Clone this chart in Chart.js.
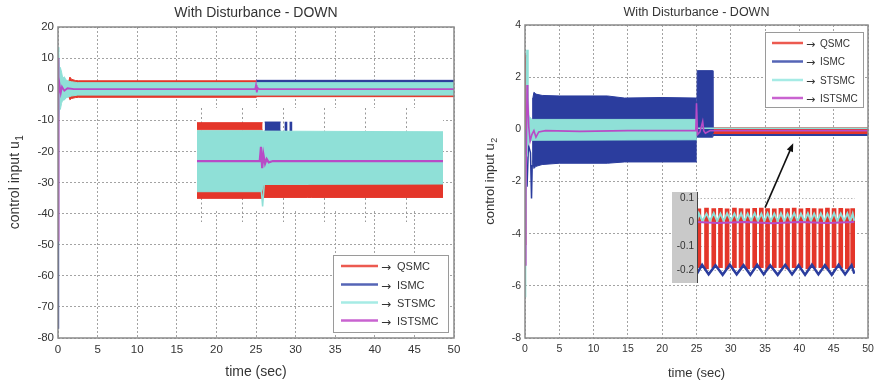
<!DOCTYPE html>
<html>
<head>
<meta charset="utf-8">
<script src="https://cdn.jsdelivr.net/npm/chart.js@4.4.1/dist/chart.umd.min.js"></script>
<style>
html, body { margin: 0; padding: 0; background: #fff; }
#page { position: relative; width: 878px; height: 384px; overflow: hidden; background: #fff; }
canvas { position: absolute; }
</style>
</head>
<body>
<div id="page">
  <canvas id="u1" width="480" height="384" style="left:0px;top:0px"></canvas>
  <canvas id="u1zoom" width="246" height="114" style="left:197px;top:108px"></canvas>
  <canvas id="u2" width="398" height="384" style="left:480px;top:0px"></canvas>
  <canvas id="u2zoom" width="185" height="91" style="left:672px;top:192px"></canvas>
</div>
<script>
// ---- data ----
var methods = ['QSMC', 'ISMC', 'STSMC', 'ISTSMC'];

var timeTicks = [0, 5, 10, 15, 20, 25, 30, 35, 40, 45, 50];
var u1Ticks = [20, 10, 0, -10, -20, -30, -40, -50, -60, -70, -80];
var u2Ticks = [4, 2, 0, -2, -4, -6, -8];
var zoom1Ticks = [24, 25, 26, 27, 28, 29];
var zoom2Ticks = [0.1, 0, -0.1, -0.2];

// u1, whole run: chattering envelopes and start-up kicks
var u1QsmcT  = [0, 1.3, 1.5, 1.7, 2.2, 2.6, 25, 25.05, 50];
var u1QsmcHi = [1.5, 1.8, 3.9, 3.2, 2.8, 2.7, 2.7, 2.7, 2.7];
var u1QsmcLo = [-1.5, -1.8, -3.4, -3.0, -2.7, -2.6, -2.6, -2.4, -2.4];
var u1IsmcT  = [25.05, 50];
var u1IsmcHi = [2.85, 2.85];
var u1IsmcLo = [0, 0];
var u1IsmcKickT = [0, 0.03, 0.08, 0.2];
var u1IsmcKick  = [0, -77, -3, 0];
var u1StsmcT  = [0, 0.1, 0.2, 0.3, 0.45, 0.6, 0.8, 1.0, 1.3, 1.7, 2.5, 50];
var u1StsmcHi = [13.5, 12, 6.5, 7, 5.5, 3.5, 4, 3, 2.6, 2.4, 2.1, 2.1];
var u1StsmcLo = [-9.5, -9, -6, -6.5, -4.5, -3.5, -3.5, -2.8, -2.5, -2.2, -1.9, -1.9];
var u1IstsmcT = [0, 0.03, 0.1, 0.2, 0.35, 0.5, 0.8, 1.2, 2, 24.9, 25, 25.1, 25.2, 25.4, 50];
var u1Istsmc  = [10, -49, -2, 1.5, -1.2, 0.8, -0.5, 0.3, 0, 0, 1.3, -1, 0.4, 0, 0];

// u1 zoom around the disturbance (t = 23.4 .. 29.4)
var z1QsmcTopT  = [23.4, 25.0];
var z1QsmcTopHi = [2.95, 2.95];
var z1QsmcTopLo = [2.4, 2.4];
var z1QsmcBotT  = [23.4, 24.98, 25.02, 26.1, 26.2, 29.4];
var z1QsmcBotHi = [-2.36, -2.36, -1.85, -1.85, -1.77, -1.77];
var z1QsmcBotLo = [-2.87, -2.87, -2.8, -2.8, -2.8, -2.8];
var z1IsmcT  = [25.05, 25.44];
var z1IsmcHi = [3.0, 3.0];
var z1IsmcLo = [2.33, 2.33];
var z1IsmcBarsT = [25.57, 25.69];
var z1StsmcT  = [23.4, 24.98, 25.02, 29.4];
var z1StsmcHi = [2.33, 2.33, 2.3, 2.25];
var z1StsmcLo = [-2.36, -2.36, -1.8, -1.77];
var z1StsmcKickT = [24.97, 25.0, 25.04];
var z1StsmcKick  = [-2.3, -3.5, -1.8];
var z1IstsmcT = [23.4, 24.93, 24.96, 24.99, 25.02, 25.06, 25.1, 25.15, 25.25, 29.4];
var z1Istsmc  = [0, 0, 1.1, -0.55, 0.5, -0.2, 0.15, -0.1, 0, 0];

// u2, whole run
var u2QsmcT  = [0.6, 25, 25.05, 50];
var u2QsmcHi = [0.25, 0.25, 0.06, 0.06];
var u2QsmcLo = [-0.25, -0.25, -0.18, -0.18];
var u2QsmcKickT = [0, 0.05, 0.12, 0.18, 0.25, 0.4, 0.6];
var u2QsmcKick  = [-4.4, -3.8, 2.0, 2.85, 2.0, 0.3, 0];
var u2IsmcT  = [1.15, 1.3, 1.6, 2.5, 5, 12, 14.5, 20, 25.05];
var u2IsmcHi = [1.2, 1.42, 1.35, 1.3, 1.28, 1.28, 1.2, 1.22, 1.2];
var u2IsmcLo = [-1.2, -1.5, -1.42, -1.35, -1.3, -1.3, -1.25, -1.25, -1.25];
var u2IsmcJumpT  = [25.05, 25.1, 27.35, 27.4];
var u2IsmcJumpHi = [0.3, 2.25, 2.25, -0.15];
var u2IsmcJumpLo = [-0.3, -0.3, -0.3, -0.25];
var u2IsmcTailT = [27.4, 50];
var u2IsmcTail  = [-0.22, -0.22];
var u2IsmcKickT = [0, 0.3, 0.5, 0.8, 0.95, 1.05, 1.15];
var u2IsmcKick  = [0, -2.2, -0.6, -0.9, -2.65, -1.4, 1.2];
var u2StsmcT  = [0.3, 0.6, 1.0, 25.05];
var u2StsmcHi = [0.7, 0.5, 0.38, 0.38];
var u2StsmcLo = [-0.7, -0.5, -0.42, -0.4];
var u2StsmcKickT = [0, 0.05, 0.15, 0.25, 0.32, 0.4, 0.5];
var u2StsmcKick  = [-6.4, -5.4, -1, 2.2, 3.05, 1.5, 0.5];
var u2StsmcTailT = [25.05, 50];
var u2StsmcTail  = [0.04, 0.04];
var u2IstsmcT = [0, 0.12, 0.3, 0.4, 0.55, 0.75, 1.0, 1.3, 1.6, 2.0, 3, 8, 15, 24.9, 25.0, 25.15, 25.5, 25.9, 26.05, 26.3, 27, 50];
var u2Istsmc  = [-5.2, -2.5, 1.7, 1.2, 0.1, -0.45, -0.2, -0.05, -0.3, -0.1, -0.05, -0.08, -0.05, -0.05, 1.0, -0.2, -0.1, 0.3, -0.05, -0.15, -0.05, -0.05];

// u2 zoom after the disturbance (t = 25 .. 48)
var z2QsmcT = [25.27, 26.39, 27.45, 28.43, 29.4, 30.47, 31.44, 32.41, 33.43, 34.4, 35.32, 36.3,
               37.27, 38.24, 39.21, 40.19, 41.21, 42.13, 43.1, 44.07, 45.04, 46.02, 46.98, 47.76];
var z2QsmcTop = [0.055, 0.058, 0.056, 0.057, 0.055, 0.058, 0.056, 0.055, 0.057, 0.058, 0.056, 0.055,
                 0.057, 0.056, 0.058, 0.055, 0.057, 0.056, 0.055, 0.058, 0.056, 0.057, 0.055, 0.056];
var z2QsmcBottom = [-0.19, -0.195, -0.19, -0.19, -0.195, -0.19, -0.19, -0.195, -0.19, -0.19, -0.195, -0.19,
                    -0.19, -0.195, -0.19, -0.19, -0.195, -0.19, -0.19, -0.195, -0.19, -0.19, -0.195, -0.19];
var z2IsmcT = [25.0, 25.75, 26.7, 27.7, 28.75, 29.8, 30.8, 31.8, 32.8, 33.8, 34.75, 35.7, 36.8,
               37.9, 38.9, 39.85, 40.8, 41.8, 42.75, 43.7, 44.7, 45.7, 46.65, 47.6, 48.0];
var z2Ismc = [-0.215, -0.178, -0.218, -0.18, -0.22, -0.178, -0.218, -0.18, -0.22, -0.178, -0.218, -0.18, -0.22,
              -0.178, -0.218, -0.18, -0.22, -0.178, -0.218, -0.18, -0.22, -0.178, -0.218, -0.18, -0.215];
var z2StsmcT = [25.0, 25.27, 25.8, 26.39, 26.9, 27.45, 27.95, 28.43, 28.9, 29.4, 29.95, 30.47, 30.95,
                31.44, 31.9, 32.41, 32.9, 33.43, 33.9, 34.4, 34.85, 35.32, 35.8, 36.3, 36.8, 37.27,
                37.75, 38.24, 38.7, 39.21, 39.7, 40.19, 40.7, 41.21, 41.65, 42.13, 42.6, 43.1, 43.6,
                44.07, 44.55, 45.04, 45.5, 46.02, 46.5, 46.98, 47.4, 47.76, 48.0];
var z2Stsmc = [0.004, 0.036, 0.004, 0.035, 0.005, 0.037, 0.004, 0.035, 0.005, 0.036, 0.004, 0.035, 0.005,
               0.036, 0.004, 0.035, 0.005, 0.037, 0.004, 0.035, 0.005, 0.036, 0.004, 0.035, 0.005, 0.036,
               0.004, 0.035, 0.005, 0.037, 0.004, 0.035, 0.005, 0.036, 0.004, 0.035, 0.005, 0.036, 0.004,
               0.035, 0.005, 0.037, 0.004, 0.035, 0.005, 0.036, 0.004, 0.035, 0.005];
var z2IstsmcT = [25, 28, 32, 36, 40, 44, 48];
var z2Istsmc  = [0, -0.004, 0, -0.005, 0, -0.004, 0];

// ---- styling ----
var FONT = '"Liberation Sans", Arial, Helvetica, sans-serif';
var ARROWFONT = '"DejaVu Sans", sans-serif';
var INK = '#333333';
var GRID = '#a3a3a3';
var FRAME = '#8a8a8a';
var RED = '#e4362a', BLUE = '#2b3d9e', CYAN = '#8fe0d7', MAG = '#b84bc6';
var keyColors = ['#ec5a50', '#5565b6', '#a6ebe5', '#c963d0'];

function pts(ts, vs) {
    return ts.map(function (t, i) { return {x: t, y: vs[i]}; });
}
function line(ts, vs, color, width, order) {
    return {type: 'line', data: pts(ts, vs), borderColor: color, borderWidth: width,
            pointRadius: 0, fill: false, tension: 0, order: order};
}
// chattering drawn as the area between its two envelopes
function band(ts, hi, lo, color, order) {
    return [
        {type: 'line', data: pts(ts, hi), borderColor: color, borderWidth: 1, backgroundColor: color,
         fill: '+1', pointRadius: 0, tension: 0, order: order},
        {type: 'line', data: pts(ts, lo), borderColor: color, borderWidth: 1,
         fill: false, pointRadius: 0, tension: 0, order: order}
    ];
}
function bars(ts, lo, hi, color, width, order) {
    return {type: 'bar', data: ts.map(function (t, i) { return {x: t, y: [lo[i], hi[i]]}; }),
            backgroundColor: color, barThickness: width, order: order};
}

function tickList(list) {
    return function (s) { s.ticks = list.map(function (v) { return {value: v}; }); };
}

var decor = {
    id: 'decor',
    afterDatasetsDraw: function (chart, args, o) {
        if (!o.pointer) return;
        var ctx = chart.ctx, sx = chart.scales.x, sy = chart.scales.y;
        var x0 = sx.getPixelForValue(o.pointer.from[0]), y0 = sy.getPixelForValue(o.pointer.from[1]);
        var x1 = sx.getPixelForValue(o.pointer.to[0]), y1 = sy.getPixelForValue(o.pointer.to[1]);
        var ang = Math.atan2(y1 - y0, x1 - x0);
        ctx.save();
        ctx.strokeStyle = '#111'; ctx.fillStyle = '#111'; ctx.lineWidth = 1.6;
        ctx.beginPath(); ctx.moveTo(x0, y0);
        ctx.lineTo(x1 - 6 * Math.cos(ang), y1 - 6 * Math.sin(ang)); ctx.stroke();
        ctx.beginPath(); ctx.moveTo(x1, y1);
        ctx.lineTo(x1 - 9 * Math.cos(ang - 0.38), y1 - 9 * Math.sin(ang - 0.38));
        ctx.lineTo(x1 - 9 * Math.cos(ang + 0.38), y1 - 9 * Math.sin(ang + 0.38));
        ctx.closePath(); ctx.fill();
        ctx.restore();
    },
    afterDraw: function (chart, args, o) {
        var ctx = chart.ctx, a = chart.chartArea;
        var cx = (a.left + a.right) / 2;
        ctx.save();
        ctx.strokeStyle = FRAME; ctx.lineWidth = 1.5;
        ctx.strokeRect(a.left, a.top, a.right - a.left, a.bottom - a.top);

        ctx.fillStyle = INK; ctx.textAlign = 'center'; ctx.textBaseline = 'middle';
        ctx.font = o.titleSize + 'px ' + FONT;
        ctx.fillText(o.title, cx, o.titleY);
        ctx.font = o.labelSize + 'px ' + FONT;
        ctx.fillText(o.xLabel, cx, o.xLabelY);

        // y label, rotated, with subscript
        ctx.save();
        ctx.translate(o.yLabelX, (a.top + a.bottom) / 2);
        ctx.rotate(-Math.PI / 2);
        var big = o.labelSize + 'px ' + FONT, small = Math.round(o.labelSize * 0.7) + 'px ' + FONT;
        ctx.font = big;
        var w1 = ctx.measureText(o.yLabel).width;
        ctx.font = small;
        var w2 = ctx.measureText(o.ySub).width;
        ctx.textAlign = 'left';
        ctx.font = big;
        ctx.fillText(o.yLabel, -(w1 + w2) / 2, 0);
        ctx.font = small;
        ctx.fillText(o.ySub, -(w1 + w2) / 2 + w1 + 0.5, o.labelSize * 0.38);
        ctx.restore();

        // legend box
        var k = o.key;
        ctx.fillStyle = '#fff';
        ctx.fillRect(k.left, k.top, k.width, k.height);
        ctx.strokeStyle = '#9a9a9a'; ctx.lineWidth = 1;
        ctx.strokeRect(k.left + 0.5, k.top + 0.5, k.width, k.height);
        ctx.textAlign = 'left';
        for (var i = 0; i < methods.length; i++) {
            var y = k.rows[i];
            ctx.strokeStyle = keyColors[i]; ctx.lineWidth = 2.5;
            ctx.beginPath(); ctx.moveTo(k.lineFrom, y); ctx.lineTo(k.lineTo, y); ctx.stroke();
            ctx.fillStyle = INK;
            ctx.font = k.arrowSize + 'px ' + ARROWFONT;
            ctx.fillText('\u2192', k.arrowX, y + 2);
            ctx.font = k.size + 'px ' + FONT;
            ctx.fillText(methods[i], k.textX, y + 1);
        }
        ctx.restore();
    }
};

function mainOptions(c) {
    return {
        responsive: false, animation: false, events: [],
        layout: {padding: c.pad},
        plugins: {legend: {display: false}, tooltip: {enabled: false}, decor: c.decor},
        scales: {
            x: {type: 'linear', min: c.xmin, max: c.xmax, offset: false,
                afterBuildTicks: tickList(c.xticks),
                ticks: {color: INK, font: {family: FONT, size: c.tickSize}, padding: c.xpad, maxRotation: 0, autoSkip: false},
                grid: {color: GRID, drawTicks: false},
                border: {display: false, dash: [2, 2]},
                afterFit: function (s) { s.height = c.xh; s.paddingLeft = 0; s.paddingRight = 0; }},
            y: {type: 'linear', min: c.ymin, max: c.ymax,
                afterBuildTicks: tickList(c.yticks),
                ticks: {color: INK, font: {family: FONT, size: c.tickSize}, padding: 4, autoSkip: false},
                grid: {color: GRID, drawTicks: false},
                border: {display: false, dash: [2, 2]},
                afterFit: function (s) { s.width = c.yw; s.paddingTop = 0; s.paddingBottom = 0; }}
        }
    };
}

// ---- u1 ----
new Chart(document.getElementById('u1'), {
    type: 'line',
    data: {datasets: [].concat(
        band(u1QsmcT, u1QsmcHi, u1QsmcLo, RED, 40),
        band(u1IsmcT, u1IsmcHi, u1IsmcLo, BLUE, 30),
        [line(u1IsmcKickT, u1IsmcKick, BLUE, 1.5, 30)],
        band(u1StsmcT, u1StsmcHi, u1StsmcLo, CYAN, 20),
        [line(u1IstsmcT, u1Istsmc, MAG, 1.8, 10)]
    )},
    options: mainOptions({
        xmin: 0, xmax: 50, ymin: -80, ymax: 20, xticks: timeTicks, yticks: u1Ticks,
        pad: {left: 0, top: 27, right: 26, bottom: 0}, yw: 58, xh: 46, xpad: 5, tickSize: 11.5,
        decor: {title: 'With Disturbance - DOWN', titleSize: 14, titleY: 13,
                xLabel: 'time (sec)', xLabelY: 372, labelSize: 14,
                yLabel: 'control input u', ySub: '1', yLabelX: 15,
                key: {left: 333, top: 255, width: 115, height: 77, rows: [266, 284.5, 302.5, 320.5],
                      lineFrom: 341, lineTo: 378, arrowX: 381, textX: 397, size: 11, arrowSize: 12}}
    }),
    plugins: [decor]
});

// u1 zoom panel
new Chart(document.getElementById('u1zoom'), {
    type: 'line',
    data: {datasets: [].concat(
        band(z1QsmcTopT, z1QsmcTopHi, z1QsmcTopLo, RED, 40),
        band(z1QsmcBotT, z1QsmcBotHi, z1QsmcBotLo, RED, 40),
        band(z1IsmcT, z1IsmcHi, z1IsmcLo, BLUE, 30),
        [bars(z1IsmcBarsT, [2.33, 2.33], [3.0, 3.0], BLUE, 2, 30)],
        band(z1StsmcT, z1StsmcHi, z1StsmcLo, CYAN, 20),
        [line(z1StsmcKickT, z1StsmcKick, CYAN, 1.5, 20)],
        [line(z1IstsmcT, z1Istsmc, MAG, 2.2, 10)]
    )},
    options: {
        responsive: false, animation: false, events: [],
        layout: {padding: 0},
        plugins: {legend: {display: false}, tooltip: {enabled: false}},
        scales: {
            x: {type: 'linear', min: 23.4, max: 29.4, offset: false,
                afterBuildTicks: tickList(zoom1Ticks),
                ticks: {display: false}, grid: {color: '#9a9a9a', drawTicks: false},
                border: {display: false, dash: [2, 2.5]},
                afterFit: function (s) { s.height = 0; s.paddingLeft = 0; s.paddingRight = 0; }},
            y: {type: 'linear', min: -4.69, max: 4.08, display: false}
        }
    },
    plugins: [{
        id: 'paper',
        beforeDraw: function (chart) {
            chart.ctx.save();
            chart.ctx.fillStyle = '#fff';
            chart.ctx.fillRect(0, 0, chart.width, 101);
            chart.ctx.restore();
        }
    }]
});

// ---- u2 ----
new Chart(document.getElementById('u2'), {
    type: 'line',
    data: {datasets: [].concat(
        band(u2QsmcT, u2QsmcHi, u2QsmcLo, RED, 40),
        [line(u2QsmcKickT, u2QsmcKick, RED, 2, 40)],
        band(u2IsmcT, u2IsmcHi, u2IsmcLo, BLUE, 30),
        band(u2IsmcJumpT, u2IsmcJumpHi, u2IsmcJumpLo, BLUE, 30),
        [line(u2IsmcTailT, u2IsmcTail, BLUE, 2, 30), line(u2IsmcKickT, u2IsmcKick, BLUE, 1.5, 30)],
        band(u2StsmcT, u2StsmcHi, u2StsmcLo, CYAN, 20),
        [line(u2StsmcKickT, u2StsmcKick, CYAN, 2, 20), line(u2StsmcTailT, u2StsmcTail, CYAN, 1.5, 20)],
        [line(u2IstsmcT, u2Istsmc, MAG, 1.6, 10)]
    )},
    options: mainOptions({
        xmin: 0, xmax: 50, ymin: -8, ymax: 4, xticks: timeTicks, yticks: u2Ticks,
        pad: {left: 0, top: 25, right: 10, bottom: 0}, yw: 45, xh: 46, xpad: 4.5, tickSize: 10.5,
        decor: {title: 'With Disturbance - DOWN', titleSize: 12.5, titleY: 13,
                xLabel: 'time (sec)', xLabelY: 373, labelSize: 13,
                yLabel: 'control input u', ySub: '2', yLabelX: 10,
                key: {left: 285, top: 32, width: 98, height: 75, rows: [43, 61.5, 80, 98],
                      lineFrom: 292, lineTo: 323, arrowX: 326, textX: 340, size: 10, arrowSize: 11},
                pointer: {from: [35.0, -3.0], to: [39.1, -0.53]}}
    }),
    plugins: [decor]
});

// u2 zoom panel
new Chart(document.getElementById('u2zoom'), {
    type: 'line',
    data: {datasets: [
        bars(z2QsmcT, z2QsmcBottom, z2QsmcTop, RED, 4, 40),
        line(z2IsmcT, z2Ismc, BLUE, 2.5, 30),
        line(z2StsmcT, z2Stsmc, CYAN, 2, 20),
        line(z2IstsmcT, z2Istsmc, MAG, 2, 10)
    ]},
    options: {
        responsive: false, animation: false, events: [],
        layout: {padding: {left: 0, top: 0, right: 2, bottom: 0}},
        plugins: {legend: {display: false}, tooltip: {enabled: false}},
        scales: {
            x: {type: 'linear', min: 25, max: 48.1, offset: false, display: false},
            y: {type: 'linear', min: -0.254, max: 0.125,
                afterBuildTicks: tickList(zoom2Ticks),
                ticks: {color: INK, font: {family: FONT, size: 10}, padding: 3, autoSkip: false,
                        callback: function (v) { return String(v); }},
                grid: {color: '#b5b5b5', drawTicks: false},
                border: {display: false, dash: [1.5, 2]},
                afterFit: function (s) { s.width = 25; s.paddingTop = 0; s.paddingBottom = 0; }}
        }
    },
    plugins: [{
        id: 'strip',
        beforeDraw: function (chart) {
            var ctx = chart.ctx;
            ctx.save();
            ctx.fillStyle = '#c9c9c9';
            ctx.fillRect(0, 0, chart.chartArea.left, chart.height);
            ctx.restore();
        },
        afterDraw: function (chart) {
            var ctx = chart.ctx, x = chart.chartArea.left + 0.5;
            ctx.save();
            ctx.strokeStyle = '#444'; ctx.lineWidth = 1;
            ctx.beginPath(); ctx.moveTo(x, 0); ctx.lineTo(x, chart.height); ctx.stroke();
            ctx.restore();
        }
    }]
});
</script>
</body>
</html>
